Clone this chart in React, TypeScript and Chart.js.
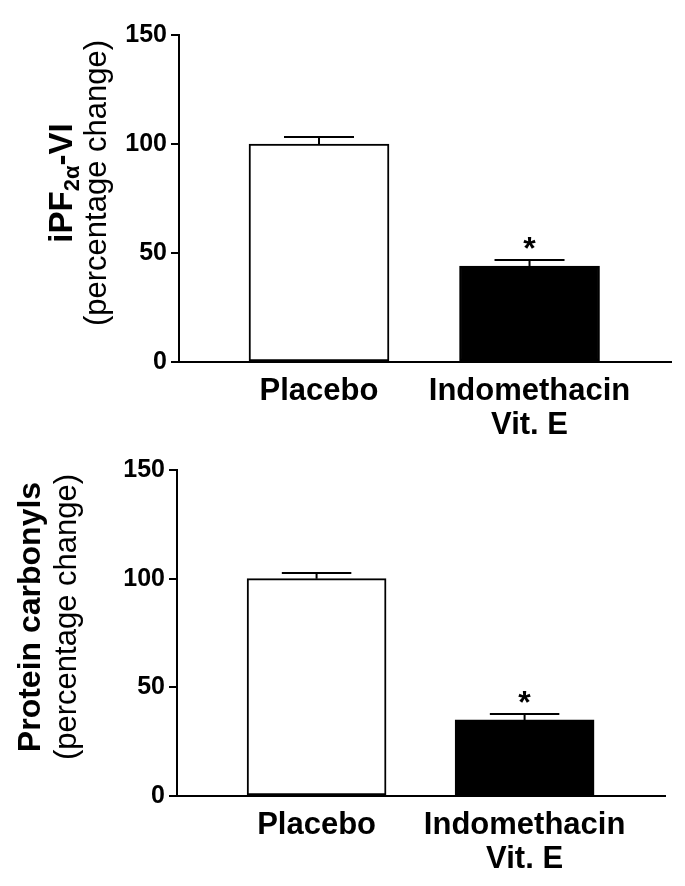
import React, { useEffect, useRef } from "react";
import { Chart, registerables } from "chart.js";

Chart.register(...registerables);

// ---- data ----
const categories: (string | string[])[] = ["Placebo", ["Indomethacin", "Vit. E"]];
const iPFValues = [100, 44];
const iPFErrors = [3.2, 2.8];
const carbonylValues = [100, 35];
const carbonylErrors = [2.6, 2.7];
const significant = [false, true];
const yTicks = [0, 50, 100, 150];
const barColors = ["#ffffff", "#000000"];

const FONT = '"Liberation Sans", Arial, Helvetica, sans-serif';

type TitleSeg = { text: string; size: number; sub?: boolean };

type PanelCfg = {
  top: number;
  height: number;
  padTop: number;
  padRight: number;
  yAxisWidth: number;
  xAxisHeight: number;
  xMin: number;
  xMax: number;
  barThickness: number;
  boldSegs: TitleSeg[];
  boldX: number;
  normalText: string;
  normalX: number;
  titleCenterY: number;
};

function Panel({ values, errors, cfg }: { values: number[]; errors: number[]; cfg: PanelCfg }) {
  const ref = useRef<HTMLCanvasElement | null>(null);

  useEffect(() => {
    const canvas = ref.current;
    if (!canvas) return;

    const errorPlugin = {
      id: "errbars",
      afterDatasetsDraw(chart: any) {
        const ctx = chart.ctx;
        const meta = chart.getDatasetMeta(0);
        const yScale = chart.scales.y;
        ctx.save();
        ctx.strokeStyle = "#000";
        ctx.lineWidth = 2;
        meta.data.forEach((bar: any, i: number) => {
          const top = yScale.getPixelForValue(values[i]);
          const cap = yScale.getPixelForValue(values[i] + errors[i]);
          const half = cfg.barThickness / 4;
          ctx.beginPath();
          ctx.moveTo(bar.x, top);
          ctx.lineTo(bar.x, cap);
          ctx.moveTo(bar.x - half, cap);
          ctx.lineTo(bar.x + half, cap);
          ctx.stroke();
          if (significant[i]) {
            ctx.fillStyle = "#000";
            ctx.font = `bold 32px ${FONT}`;
            ctx.textAlign = "center";
            ctx.textBaseline = "alphabetic";
            ctx.fillText("*", bar.x, cap - 1);
          }
        });
        ctx.restore();
      },
    };

    const titlePlugin = {
      id: "ytitle",
      afterDraw(chart: any) {
        const ctx = chart.ctx;
        const cy = chart.chartArea.top + cfg.titleCenterY;
        ctx.save();
        ctx.fillStyle = "#000";
        ctx.textBaseline = "alphabetic";
        ctx.textAlign = "left";
        // bold line with optional subscript
        let total = 0;
        const widths = cfg.boldSegs.map((s) => {
          ctx.font = `bold ${s.size}px ${FONT}`;
          const w = ctx.measureText(s.text).width;
          total += w;
          return w;
        });
        ctx.save();
        ctx.translate(cfg.boldX, cy);
        ctx.rotate(-Math.PI / 2);
        let tx = -total / 2;
        cfg.boldSegs.forEach((s, i) => {
          ctx.font = `bold ${s.size}px ${FONT}`;
          ctx.fillText(s.text, tx, s.sub ? 7 : 0);
          tx += widths[i];
        });
        ctx.restore();
        // normal line
        ctx.save();
        ctx.translate(cfg.normalX, cy);
        ctx.rotate(-Math.PI / 2);
        ctx.font = `31px ${FONT}`;
        ctx.textAlign = "center";
        ctx.fillText(cfg.normalText, 0, 0);
        ctx.restore();
        ctx.restore();
      },
    };

    const chart = new Chart(canvas, {
      type: "bar",
      data: {
        datasets: [
          {
            data: values.map((v, i) => ({ x: i, y: v })) as any,
            backgroundColor: barColors,
            borderColor: "#000",
            borderWidth: 2,
            borderSkipped: false,
            barThickness: cfg.barThickness,
          },
        ],
      },
      options: {
        responsive: false,
        animation: false,
        layout: { padding: { left: 0, right: cfg.padRight, top: cfg.padTop, bottom: 0 } },
        plugins: {
          legend: { display: false },
          tooltip: { enabled: false },
          title: { display: false },
        },
        scales: {
          x: {
            type: "linear",
            offset: false,
            min: cfg.xMin,
            max: cfg.xMax,
            grid: { display: false, drawTicks: false },
            border: { display: true, color: "#000", width: 2 },
            afterBuildTicks: (s: any) => {
              s.ticks = categories.map((_, i) => ({ value: i }));
            },
            afterFit: (s: any) => {
              s.height = cfg.xAxisHeight;
            },
            ticks: {
              autoSkip: false,
              maxRotation: 0,
              minRotation: 0,
              padding: 12,
              color: "#000",
              font: { family: FONT, size: 31, weight: "bold", lineHeight: 1.1 },
              callback: (v: any) => categories[v as number] as any,
            },
          },
          y: {
            min: 0,
            max: 150,
            afterBuildTicks: (s: any) => {
              s.ticks = yTicks.map((v) => ({ value: v }));
            },
            afterFit: (s: any) => {
              s.width = cfg.yAxisWidth;
            },
            grid: { drawOnChartArea: false, color: "#000", lineWidth: 2, tickLength: 8 },
            border: { display: true, color: "#000", width: 2 },
            ticks: {
              color: "#000",
              padding: 4,
              font: { family: FONT, size: 25, weight: "bold" },
            },
          },
        },
      } as any,
      plugins: [errorPlugin, titlePlugin],
    });
    return () => chart.destroy();
  }, [values, errors, cfg]);

  return (
    <canvas
      ref={ref}
      width={685}
      height={cfg.height}
      style={{ position: "absolute", left: 0, top: cfg.top, width: 685, height: cfg.height }}
    />
  );
}

const topCfg: PanelCfg = {
  top: 0,
  height: 440,
  padTop: 35,
  padRight: 14,
  yAxisWidth: 179,
  xAxisHeight: 78,
  xMin: -0.665,
  xMax: 1.672,
  barThickness: 140,
  boldSegs: [
    { text: "iPF", size: 33 },
    { text: "2\u03b1", size: 22, sub: true },
    { text: "-VI", size: 33 },
  ],
  boldX: 72,
  normalText: "(percentage change)",
  normalX: 106,
  titleCenterY: 148,
};

const bottomCfg: PanelCfg = {
  top: 440,
  height: 446,
  padTop: 30,
  padRight: 20,
  yAxisWidth: 177,
  xAxisHeight: 90,
  xMin: -0.671,
  xMax: 1.675,
  barThickness: 139,
  boldSegs: [{ text: "Protein carbonyls", size: 32 }],
  boldX: 40,
  normalText: "(percentage change)",
  normalX: 76,
  titleCenterY: 147,
};

export default function App() {
  return (
    <div style={{ position: "absolute", left: 0, top: 0, width: 685, height: 886, background: "#fff" }}>
      <Panel values={iPFValues} errors={iPFErrors} cfg={topCfg} />
      <Panel values={carbonylValues} errors={carbonylErrors} cfg={bottomCfg} />
    </div>
  );
}
